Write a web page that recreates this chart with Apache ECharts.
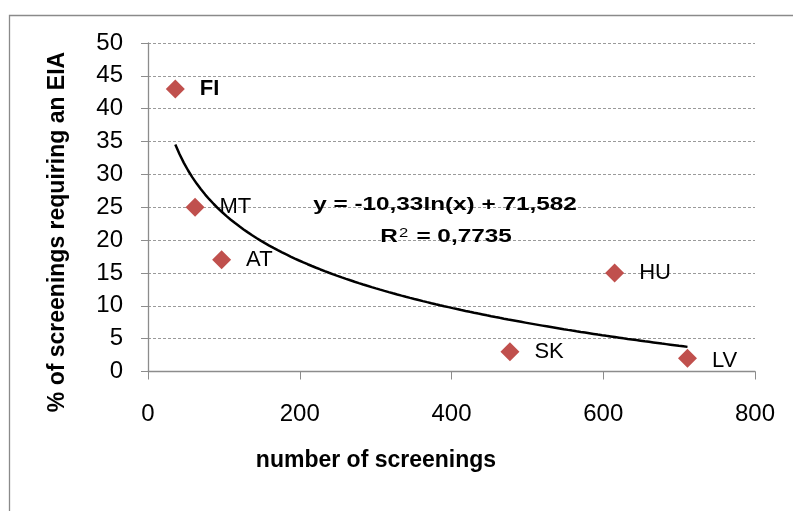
<!DOCTYPE html>
<html>
<head>
<meta charset="utf-8">
<script src="https://cdn.jsdelivr.net/npm/echarts@6/dist/echarts.min.js"></script>
<style>
html,body{margin:0;padding:0;background:#fff;}
#chart{width:793px;height:511px;}
</style>
</head>
<body>
<div id="chart"></div>
<script>
// ---- data ----
const countries = ['FI', 'MT', 'AT', 'SK', 'LV', 'HU'];
const screenings = [36, 62, 97, 477, 711, 615];
const eiaPercent = [43, 25, 17, 3, 2, 15];
const trendSlope = -10.33;      // from the chart's trendline equation
const trendIntercept = 71.582;
const equationText = 'y = -10,33ln(x) + 71,582';
const r2Text = '0,7735';
const xTicks = [0, 200, 400, 600, 800];
const yTicks = [0, 5, 10, 15, 20, 25, 30, 35, 40, 45, 50];
const xTitle = 'number of screenings';
const yTitle = '% of screenings requiring an EIA';

// trendline over the range of the data
const xMin = Math.min(...screenings), xMax = Math.max(...screenings);
const trend = [];
for (let i = 0; i <= 120; i++) {
  const x = xMin + (xMax - xMin) * i / 120;
  trend.push([x, trendSlope * Math.log(x) + trendIntercept]);
}

const FONT = '"Liberation Sans", Arial, sans-serif';
const chart = echarts.init(document.getElementById('chart'));
chart.setOption({
  animation: false,
  backgroundColor: '#fff',
  grid: { left: 148, top: 43, right: 38, bottom: 139.5, containLabel: false },
  xAxis: {
    type: 'value', min: xTicks[0], max: xTicks[xTicks.length - 1], interval: 200,
    axisLine: { show: true, lineStyle: { color: '#8c8c8c', width: 1.3 } },
    axisTick: { show: true, length: 8, lineStyle: { color: '#8c8c8c' } },
    axisLabel: { fontFamily: FONT, fontSize: 24, color: '#000', margin: 31 },
    splitLine: { show: false }
  },
  yAxis: {
    type: 'value', min: yTicks[0], max: yTicks[yTicks.length - 1], interval: 5,
    axisLine: { show: true, lineStyle: { color: '#8c8c8c', width: 1.3 } },
    axisTick: { show: true, length: 7, lineStyle: { color: '#8c8c8c' } },
    axisLabel: { fontFamily: FONT, fontSize: 24, color: '#000', margin: 25 },
    splitLine: { show: true, lineStyle: { color: '#9a9a9a', type: [3, 2], width: 1 } }
  },
  series: [
    {
      type: 'line', data: trend, showSymbol: false, smooth: false,
      lineStyle: { color: '#000', width: 2.5 }, z: 3, silent: true
    },
    {
      type: 'scatter',
      data: countries.map((c, i) => ({
        name: c, value: [screenings[i], eiaPercent[i]],
        label: c === 'FI' ? { fontWeight: 'bold' } : (c === 'LV' ? { offset: [0, 3] } : {})
      })),
      symbol: 'diamond', symbolSize: [19, 19],
      itemStyle: { color: '#C0504D', opacity: 1 }, z: 4,
      label: {
        show: true, position: 'right', distance: 15,
        formatter: p => p.name,
        fontFamily: FONT, fontSize: 22, color: '#000', opacity: 1
      }
    }
  ],
  graphic: [
    { type: 'rect', left: 7, top: 13, shape: { width: 820, height: 540 },
      style: { fill: 'none', stroke: '#8a8a8a', lineWidth: 1.3 }, silent: true, z: -10 },
    { type: 'text', x: 376, y: 461, z: 100,
      style: { text: xTitle, fontFamily: FONT, fontSize: 23, fontWeight: 'bold',
        fill: '#000', align: 'center', verticalAlign: 'middle' } },
    { type: 'text', x: 58, y: 232, rotation: Math.PI / 2, z: 100,
      style: { text: yTitle, fontFamily: FONT, fontSize: 23, fontWeight: 'bold',
        fill: '#000', align: 'center', verticalAlign: 'middle' } },
    { type: 'text', x: 445, y: 205, scaleX: 1.28, z: 100,
      style: { text: equationText, fontFamily: FONT, fontSize: 19, fontWeight: 'bold',
        fill: '#000', align: 'center', verticalAlign: 'middle' } },
    { type: 'text', x: 446, y: 237, scaleX: 1.28, z: 100,
      style: { text: '{a|R}{s|2}{a| = ' + r2Text + '}',
        align: 'center', verticalAlign: 'middle',
        rich: {
          a: { fontFamily: FONT, fontSize: 19, fontWeight: 'bold', color: '#000' },
          s: { fontFamily: FONT, fontSize: 13, fontWeight: 'normal', color: '#000', verticalAlign: 'top', padding: [0, 1, 8, 1] }
        } } }
  ]
});
</script>
</body>
</html>
